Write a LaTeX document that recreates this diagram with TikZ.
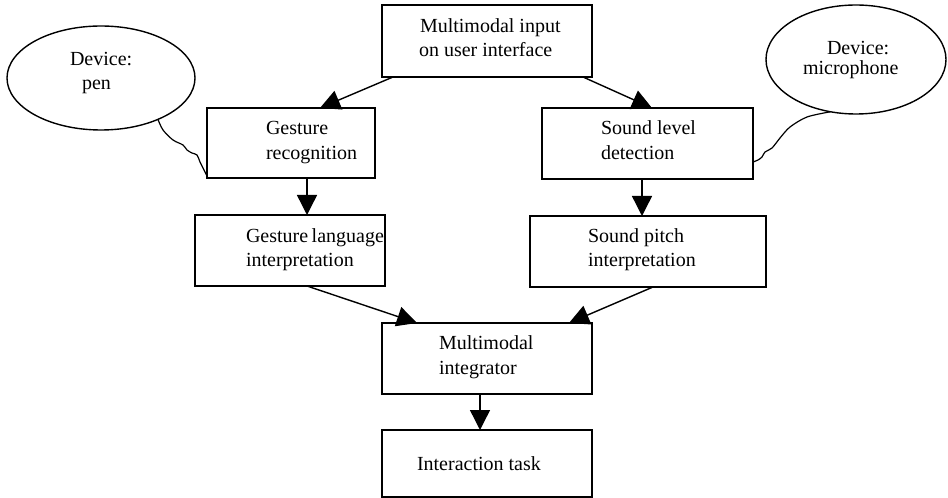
\documentclass[tikz,border=0pt]{standalone}
\usepackage{fontspec}
\setmainfont{Liberation Serif}
\usetikzlibrary{arrows.meta,shapes.geometric}
\begin{document}
\begin{tikzpicture}[x=1bp,y=-1bp,
  box/.style={draw,line width=1.5bp,rectangle,inner sep=0pt,outer sep=0pt},
  ell/.style={draw,line width=1.4bp,ellipse,inner sep=0pt,outer sep=0pt},
  txt/.style={anchor=base west,inner sep=0pt,outer sep=0pt,font=\fontsize{20bp}{24bp}\selectfont},
  arr/.style={line width=1.4bp,-{Triangle[length=20bp,width=20bp]}},
  tail/.style={line width=1.2bp}]
\useasboundingbox (0,0) rectangle (948,498);
\fill[white] (0,0) rectangle (948,498);
% boxes
\node[box,minimum width=210bp,minimum height=72bp] (top) at (487,41) {};
\node[box,minimum width=168bp,minimum height=70bp] (gr) at (291,143) {};
\node[box,minimum width=211bp,minimum height=71bp] (sl) at (647.5,143.5) {};
\node[box,minimum width=190bp,minimum height=71bp] (gl) at (290,250.5) {};
\node[box,minimum width=236bp,minimum height=71bp] (sp) at (648,251.5) {};
\node[box,minimum width=210bp,minimum height=71bp] (mi) at (487,358.5) {};
\node[box,minimum width=210bp,minimum height=67bp] (it) at (487,463.5) {};
% ellipses
\node[ell,minimum width=188bp,minimum height=104bp] (pen) at (101,78) {};
\node[ell,minimum width=180bp,minimum height=109bp] (mic) at (856,59.5) {};
% texts
\node[txt] (topa) at (420,33) {Multimodal input};
\node[txt] (topb) at (419,57) {on user interface};
\node[txt] (gra) at (266,135) {Gesture};
\node[txt] (grb) at (266,160) {recognition};
\node[txt] (sla) at (601,135) {Sound level};
\node[txt] (slb) at (601,160) {detection};
\node[txt] (gla) at (246,243) {Gesture\hspace{-1.5bp} language};
\node[txt] (glb) at (246,267) {interpretation};
\node[txt] (spa) at (588,243) {Sound pitch};
\node[txt] (spb) at (588,267) {interpretation};
\node[txt] (mia) at (439,350) {Multimodal};
\node[txt] (mib) at (439,375) {integrator};
\node[txt] (ita) at (417,470) {Interaction task};
\node[txt] (pena) at (70,66) {Device:};
\node[txt] (penb) at (82,90) {pen};
\node[txt] (mica) at (827,55) {Device:};
\node[txt] (micb) at (803,75) {microphone};
% arrows
\draw[arr] ([xshift=-94bp]top.south) -- ([xshift=29bp]gr.north);
\draw[arr] ([xshift=96bp]top.south) -- ([xshift=4.5bp]sl.north);
\draw[arr] ([xshift=16bp]gr.south) -- ([xshift=17bp]gl.north);
\draw[arr] ([xshift=-5.5bp]sl.south) -- ([xshift=-6bp]sp.north);
\draw[arr] ([xshift=17bp]gl.south) -- ([xshift=-70bp]mi.north);
\draw[arr] ([xshift=5bp]sp.south) -- ([xshift=82bp]mi.north);
\draw[arr] ([xshift=-7bp]mi.south) -- ([xshift=-7bp]it.north);
% callout tails
\draw[tail] plot[smooth,tension=0.5] coordinates {(pen.324) (163,130) (173,140) (183,145) (187,150) (192,153) (197,155) (200,162) (204,170) ([yshift=2bp]gr.south west)};
\draw[tail] plot[smooth,tension=0.5] coordinates {(mic.244) (807,117) (790,127) (780,138) (772,148) (765,152) (762,157) (758,160) ([yshift=-18.5bp]sl.east)};
\end{tikzpicture}
\end{document}
